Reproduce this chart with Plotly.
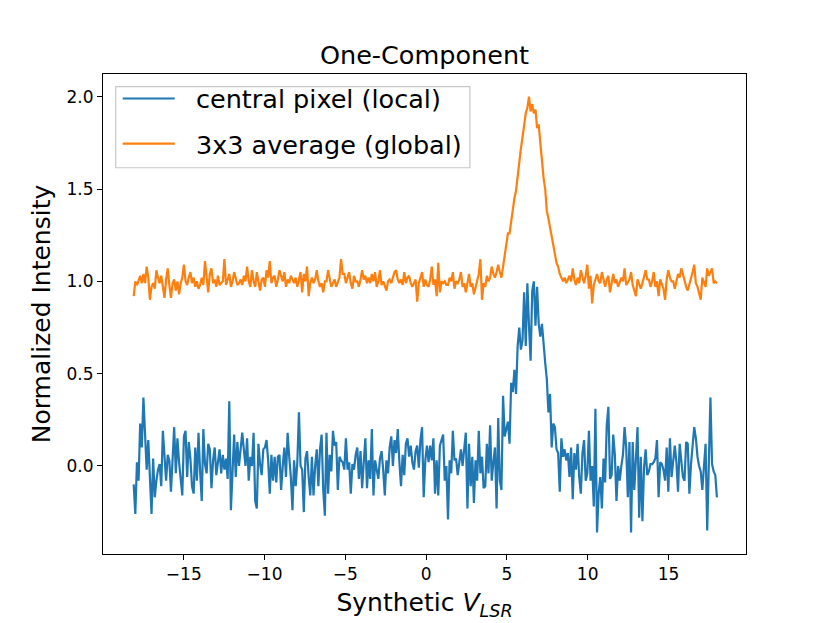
import numpy as np
import plotly.graph_objects as go

# canales de velocidad (V_LSR sintetica)
velocity = np.linspace(-18.1, 18.0, 361)

# pixel central (local)
central_pixel = [
    -0.10, -0.26, 0.02, -0.08, 0.23, 0.10, 0.37, 0.14, -0.02, 0.14,
    -0.08, -0.26, 0.04, -0.17, -0.08, -0.02, 0.01, -0.11, 0.19, 0.05,
    -0.08, 0.06, 0.03, -0.14, 0.07, 0.21, -0.04, 0.15, 0.02, -0.06,
    -0.16, 0.16, 0.19, -0.06, 0.13, 0.04, -0.11, -0.15, 0.10, -0.08,
    0.18, -0.03, -0.19, 0.20, 0.01, -0.04, 0.12, 0.09, -0.12, 0.03,
    0.10, -0.05, 0.01, 0.09, -0.04, 0.06, -0.02, 0.04, -0.07, 0.35,
    -0.24, -0.04, 0.17, -0.06, 0.13, 0.00, 0.08, 0.18, 0.09, 0.00,
    0.15, -0.08, 0.05, 0.00, 0.18, -0.19, -0.23, 0.12, 0.01, -0.05,
    0.09, 0.10, 0.14, 0.03, -0.15, 0.06, -0.08, 0.05, -0.09, 0.05,
    0.06, -0.13, 0.00, 0.10, -0.06, 0.18, 0.05, -0.06, -0.24, 0.03,
    -0.11, 0.02, 0.29, 0.00, -0.02, -0.25, 0.04, 0.08, -0.06, -0.16,
    0.05, -0.16, 0.00, 0.09, -0.11, 0.09, 0.17, -0.13, -0.27, 0.18,
    -0.15, 0.06, -0.03, 0.19, 0.11, 0.13, -0.13, 0.05, 0.03, 0.02,
    -0.02, 0.15, -0.02, 0.02, -0.15, 0.01, -0.02, 0.06, 0.10, -0.07,
    0.08, -0.12, 0.02, 0.15, -0.12, 0.03, -0.07, 0.20, -0.16, 0.03,
    -0.02, -0.07, 0.04, 0.08, -0.02, -0.16, 0.03, -0.04, 0.10, 0.16,
    0.00, 0.14, 0.07, 0.20, 0.02, -0.11, 0.06, -0.05, 0.12, 0.15,
    0.05, 0.11, 0.02, -0.02, 0.08, 0.11, -0.01, 0.14, 0.21, -0.17,
    0.03, 0.11, 0.02, 0.11, 0.03, 0.15, -0.15, 0.03,
    -0.16, 0.11, 0.14, 0.17, -0.08, 0.00, -0.29, 0.03, -0.04, 0.19,
    0.03, 0.04, -0.05, 0.01, 0.09, 0.00, 0.08, 0.18, -0.23, 0.12,
    -0.11, 0.05, -0.20, 0.03, -0.08, 0.19, -0.04, 0.05, -0.12, -0.11,
    0.12, -0.04, 0.22, -0.08, 0.02, 0.10, -0.23, 0.26, -0.08, -0.13,
    0.38, 0.16, 0.20, 0.24, 0.12, 0.45, 0.40, 0.52, 0.39, 0.65,
    0.75, 0.63, 0.68, 0.94, 0.65, 0.99, 0.76, 0.57, 0.95, 1.00,
    0.76, 0.97, 0.77, 0.70, 0.77, 0.65, 0.56, 0.47, 0.29, 0.39,
    0.10, 0.23, 0.21, 0.09, 0.07, -0.14, 0.15, 0.05, 0.09, 0.03,
    0.07, -0.06, 0.10, -0.18, 0.07, -0.02, 0.12, -0.06, -0.15, 0.07,
    0.14, -0.08, -0.04,
    0.19, -0.08, 0.00, -0.22, 0.31, -0.36, -0.15, -0.06, -0.23, 0.04,
    -0.09, 0.22, 0.32, -0.07, -0.05, 0.17, 0.06, -0.19, 0.00, -0.08,
    0.00, 0.06, 0.21, 0.10, -0.17, 0.13, -0.36, 0.13, -0.13, 0.04,
    0.21, -0.28, 0.05, -0.30, -0.01, 0.09, -0.05, -0.03, 0.01, 0.01,
    0.02, 0.04, 0.14, -0.17, 0.02, 0.01, -0.02, -0.08, 0.10, -0.14,
    0.15, -0.06, 0.05, 0.11, 0.02, -0.14, 0.12, 0.03, -0.06, -0.08,
    0.13, 0.12, -0.15, 0.01, 0.10, 0.21, 0.15, 0.05, 0.00, -0.03,
    -0.13, 0.03, 0.12, -0.35, 0.10, 0.37, 0.01, -0.03, -0.05, -0.17,
]

# promedio 3x3 (global)
average_3x3 = [
    0.92, 1.00, 0.98, 1.01, 1.03, 0.99, 1.04, 0.99, 1.08, 1.02,
    0.90, 0.97, 0.99, 0.96, 1.06, 1.02, 0.99, 1.03, 0.97, 0.91,
    1.01, 1.07, 0.98, 0.91, 0.99, 1.01, 0.95, 1.00, 0.93, 0.99,
    1.02, 1.09, 1.00, 0.98, 1.02, 1.05, 0.99, 1.02, 0.97, 1.00,
    0.96, 0.98, 1.02, 0.98, 1.11, 1.00, 0.94, 1.04, 1.07, 0.99,
    1.01, 0.97, 1.03, 0.98, 0.99, 1.00, 1.12, 0.98, 1.01, 1.04,
    0.97, 1.00, 1.05, 1.02, 0.98, 0.99, 1.01, 0.98, 1.03, 1.00,
    1.08, 1.00, 0.97, 1.06, 1.00, 0.97, 1.05, 1.00, 0.95, 1.01,
    1.02, 0.97, 1.06, 1.02, 1.11, 0.99, 1.02, 1.03, 0.97, 1.01,
    1.06, 1.03, 1.00, 1.05, 0.97, 1.01, 0.99, 1.03, 1.01, 0.99,
    1.02, 0.97, 1.01, 1.05, 0.94, 1.04, 1.00, 1.08, 0.92, 0.99,
    1.02, 0.99, 1.01, 1.06, 1.00, 0.97, 0.99, 0.94, 1.00, 1.00,
    1.06, 1.01, 0.97, 0.99, 1.01, 0.97, 0.99, 1.02, 1.12, 1.04,
    1.04, 0.99, 1.02, 1.05, 0.99, 0.96, 1.03, 1.00, 1.00, 0.97,
    1.01, 1.06, 1.01, 1.03, 0.99, 1.02, 0.99, 1.04, 1.00, 1.05,
    0.97, 1.00, 1.06, 0.98, 1.00, 0.97, 0.95, 1.00, 1.01, 0.99,
    1.02, 1.05, 1.06, 1.01, 0.99, 1.01, 0.98, 1.05, 0.99, 1.02,
    1.03, 0.99, 0.97, 0.99, 1.01, 0.89, 0.99, 1.02, 1.05, 0.97,
    1.01, 0.98, 0.97, 1.01, 1.08, 0.98, 1.01, 0.92, 1.10, 0.94,
    1.00, 0.99, 1.00, 0.98, 0.98, 1.02, 1.00, 1.05, 0.96, 1.00,
    0.99, 1.01, 1.05, 0.97, 0.99, 0.94, 1.00, 1.04, 0.97, 0.99,
    0.93, 0.97, 1.01, 1.04, 1.12, 0.90, 0.99, 0.97, 1.03, 1.00,
    1.02, 1.08, 1.04, 1.02, 1.05, 1.09, 1.05, 1.02, 1.08, 1.14,
    1.19, 1.26, 1.26, 1.33, 1.41, 1.45, 1.49, 1.58, 1.66, 1.72,
    1.78, 1.84, 1.91, 1.94, 2.00, 1.92, 1.96, 1.91, 1.93, 1.83,
    1.85, 1.75, 1.64, 1.56, 1.50, 1.38, 1.34, 1.29, 1.24, 1.20,
    1.15, 1.10, 1.08, 1.04, 1.02, 1.00, 1.02, 0.99, 1.01, 1.03,
    1.00, 1.07, 1.01, 0.98, 1.02, 0.99, 1.06, 1.02, 0.99, 1.03,
    1.09, 0.96, 1.03, 0.88, 0.98, 1.01, 1.04, 1.00, 0.99, 1.05,
    1.00, 0.97, 1.01, 1.03, 0.94, 1.00, 1.04, 0.99, 1.01, 0.97,
    0.99, 1.02, 1.00, 1.07, 0.98, 1.00, 1.01, 1.05, 0.98, 0.95,
    0.92, 1.01, 0.98, 0.96, 0.99, 1.02, 1.06, 1.01, 1.01, 0.97,
    1.00, 1.05, 0.97, 1.00, 0.92, 1.01, 0.99, 0.96, 0.90, 1.01,
    1.06, 1.02, 1.00, 1.00, 0.96, 1.00, 1.04, 1.02, 1.07, 1.04,
    1.00, 0.97, 0.95, 0.98, 1.01, 1.05, 1.09, 0.99, 0.97, 0.93,
    0.90, 1.02, 1.00, 0.97, 1.07, 1.03, 1.05, 1.07, 0.99, 1.00,
    0.99,
]

x_ticks = [-15, -10, -5, 0, 5, 10, 15]
y_ticks = [0.0, 0.5, 1.0, 1.5, 2.0]

font = "DejaVu Sans"
gap = "\u00a0\u00a0"  # hueco entre la linea y el texto de la leyenda

fig = go.Figure()
fig.add_trace(go.Scatter(x=velocity, y=central_pixel, mode="lines",
                         name=gap + "central pixel (local)", legendgroup="a",
                         line=dict(color="#1f77b4", width=2.2)))
fig.add_trace(go.Scatter(x=velocity, y=average_3x3, mode="lines",
                         name=gap + "3x3 average (global)", legendgroup="b",
                         line=dict(color="#ff7f0e", width=2.2)))

# marco de la leyenda (estilo matplotlib)
fig.add_shape(type="rect", xref="paper", yref="paper",
              x0=0.0198, x1=0.5706, y0=0.8047, y1=0.9735,
              line=dict(color="#c8c8c8", width=1.2),
              fillcolor="rgba(255,255,255,0.8)", layer="above")

# la pagina tiene 8px de margen, por eso 822x615
fig.update_layout(
    width=822, height=615,
    margin=dict(l=95, r=84, t=66, b=69),
    plot_bgcolor="white", paper_bgcolor="white",
    font=dict(family=font, color="black"),
    title=dict(text="One-Component", x=0.5, xref="paper", xanchor="center",
               y=0.9236, yanchor="middle", yref="container",
               font=dict(size=25.5, family=font, color="black")),
    legend=dict(x=0.0229, y=0.997, xanchor="left", yanchor="top",
                bgcolor="rgba(0,0,0,0)", borderwidth=0,
                itemwidth=52, tracegroupgap=9,
                font=dict(size=25.5, family=font, color="black")),
)
fig.update_xaxes(range=[-20.0, 19.8], tickvals=x_ticks, ticks="outside",
                 ticklen=5, tickcolor="black", showline=True, linecolor="black",
                 linewidth=1, mirror=True, showgrid=False, zeroline=False,
                 automargin=False, tickfont=dict(size=17, family=font),
                 title=dict(text="Synthetic <i>V</i><sub><i>LSR</i></sub>",
                            font=dict(size=25, family=font), standoff=10))
fig.update_yaxes(range=[-0.477, 2.123], tickvals=y_ticks, tickformat=".1f",
                 ticks="outside", ticklen=5, tickcolor="black", showline=True,
                 linecolor="black", linewidth=1, mirror=True, showgrid=False,
                 zeroline=False, automargin=False,
                 tickfont=dict(size=17, family=font),
                 title=dict(text="Normalized Intensity",
                            font=dict(size=25, family=font), standoff=8))

fig.write_html("out.html")
